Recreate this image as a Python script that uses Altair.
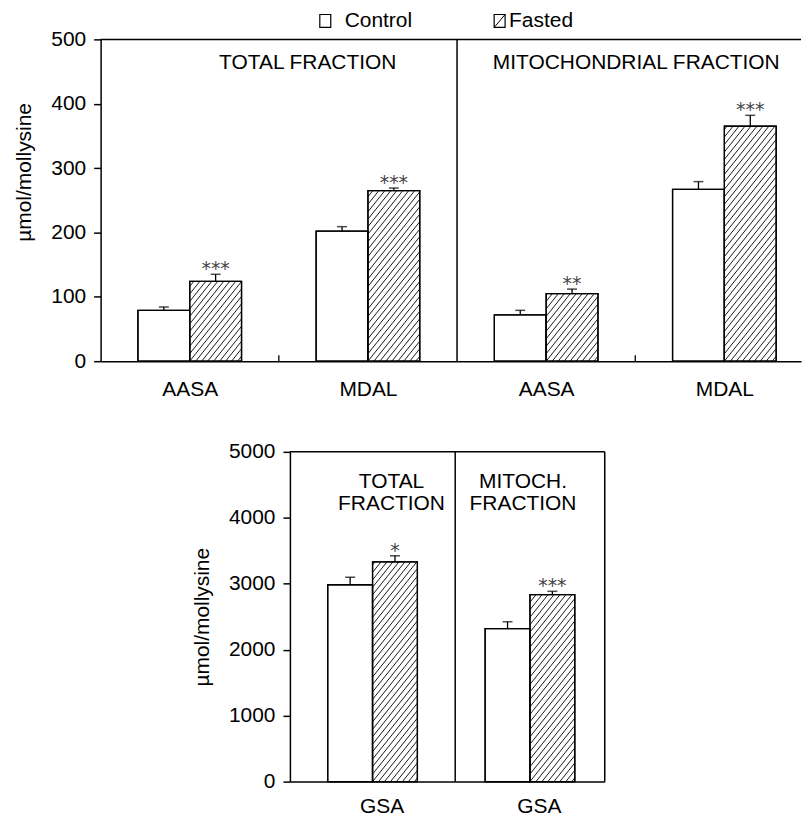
import altair as alt
import numpy as np
import pandas as pd

# ---------------- data ----------------
legend_labels = ["Control", "Fasted"]

top_sections = ["TOTAL FRACTION", "MITOCHONDRIAL FRACTION"]
top_section_of = [0, 0, 1, 1]
top_categories = ["AASA", "MDAL", "AASA", "MDAL"]
top_control = [79, 202, 72, 267]
top_control_err = [5, 7, 7, 12]
top_fasted = [124, 265, 105, 365]
top_fasted_err = [11, 4, 7, 17]
top_signif = ["***", "***", "**", "***"]
top_y_ticks = [0, 100, 200, 300, 400, 500]

bottom_sections = ["TOTAL\nFRACTION", "MITOCH.\nFRACTION"]
bottom_section_of = [0, 1]
bottom_categories = ["GSA", "GSA"]
bottom_control = [2985, 2318]
bottom_control_err = [115, 106]
bottom_fasted = [3333, 2836]
bottom_fasted_err = [91, 49]
bottom_signif = ["*", "***"]
bottom_y_ticks = [0, 1000, 2000, 3000, 4000, 5000]

Y_TITLE = "µmol/mollysine"
FONT = "Liberation Sans"
FS = 21

# ---------------- layout / style ----------------
TOP_W, TOP_H = 703, 323
TOP_EDGES = [0, 2, 4]
TOP_XMAX = 3.93
BOT_W, BOT_H = 316, 331
BOT_EDGES = [0, 1.05, 2]
BOT_XMAX = 2.0


def centers_for(section_of, edges):
    out = []
    for i, s in enumerate(section_of):
        members = [j for j, t in enumerate(section_of) if t == s]
        k, n = members.index(i), len(members)
        out.append(edges[s] + (k + 0.5) * (edges[s + 1] - edges[s]) / n)
    return out


def hatch(x0, x1, ytop, pxx, pxy, spacing=6.0, slope=1.25):
    W = (x1 - x0) * pxx
    H = ytop * pxy
    segs = []
    a = np.floor((-H / slope) / spacing) * spacing
    while a < W:
        vs = max(0.0, -slope * a)
        ve = min(H, slope * (W - a))
        if ve > vs + 0.5:
            us, ue = a + vs / slope, a + ve / slope
            segs.append(dict(hx=x0 + us / pxx, hy=vs / pxy,
                             hx2=x0 + ue / pxx, hy2=ve / pxy))
        a += spacing
    return segs


def build_panel(categories, section_of, edges, xmax, control, cerr, fasted,
                ferr, signif, sections, yticks, width, height, bar_px,
                sec_dx, sec_y, label_offset, label_pad, right_border,
                inner_ticks, extra_layers, title_y=None):
    ymax = yticks[-1]
    pxx = width / xmax
    pxy = height / ymax
    bw = bar_px / pxx
    centers = centers_for(section_of, edges)

    rows = []
    for i, c in enumerate(centers):
        rows.append(dict(group=legend_labels[0], x=c - bw, x2=c, v=control[i],
                         top=control[i] + cerr[i], mid=c - bw / 2, sig=""))
        rows.append(dict(group=legend_labels[1], x=c, x2=c + bw, v=fasted[i],
                         top=fasted[i] + ferr[i], mid=c + bw / 2, sig=signif[i]))
    bars = pd.DataFrame(rows)

    hrows = []
    for r in rows:
        if r["group"] == legend_labels[1]:
            hrows += hatch(r["x"], r["x2"], r["v"], pxx, pxy)
    hatch_df = pd.DataFrame(hrows)

    label_expr = " : ".join(
        f"abs(datum.value - {c}) < 0.01 ? '{n}'" for c, n in zip(centers, categories)
    ) + " : ''"

    xs = alt.Scale(domain=[0, xmax], nice=False, zero=False)
    ys = alt.Scale(domain=[0, ymax], nice=False)
    yaxis_kw = dict(values=yticks, format="d", title=Y_TITLE, tickSize=7,
                    labelPadding=8, titlePadding=16)
    if title_y is not None:
        yaxis_kw["titleY"] = title_y
    X = alt.X("x:Q", scale=xs,
              axis=alt.Axis(values=centers, labelExpr=label_expr, ticks=False,
                            title=None, labelPadding=label_pad, labelFlush=False,
                            labelOffset=label_offset, labelOverlap=False))
    base = alt.Chart(bars)
    rect = base.mark_rect(fill="white", stroke="black", strokeWidth=1.3).encode(
        x=X, x2="x2:Q",
        y=alt.Y("v:Q", scale=ys, axis=alt.Axis(**yaxis_kw)),
        y2=alt.datum(0),
    )
    hl = alt.Chart(hatch_df).mark_rule(color="black", strokeWidth=0.9).encode(
        x="hx:Q", x2="hx2:Q", y="hy:Q", y2="hy2:Q")
    outline = base.mark_rect(fillOpacity=0, stroke="black", strokeWidth=1.3).encode(
        x="x:Q", x2="x2:Q", y="v:Q", y2=alt.datum(0))
    err = base.mark_rule(color="black", strokeWidth=1.3).encode(
        x="mid:Q", y="v:Q", y2="top:Q")
    cap = base.mark_tick(orient="horizontal", color="black", size=10,
                         thickness=1.5).encode(x="mid:Q", y="top:Q")
    stars = base.mark_text(font="DejaVu Sans", fontSize=19, color="#444",
                           baseline="alphabetic", dy=1).encode(
        x="mid:Q", y="top:Q", text="sig:N")

    layers = [rect, hl, outline, err, cap, stars]

    # section dividers / frame
    sec_df = pd.DataFrame({"edge": edges[1:-1]})
    layers.append(alt.Chart(sec_df).mark_rule(color="black", strokeWidth=1.5)
                  .encode(x="edge:Q"))
    frame_df = pd.DataFrame({"t": [ymax]})
    layers.append(alt.Chart(frame_df).mark_rule(color="black", strokeWidth=1.5)
                  .encode(y="t:Q"))
    if right_border:
        layers.append(alt.Chart(pd.DataFrame({"r": [edges[-1]]}))
                      .mark_rule(color="black", strokeWidth=1.5).encode(x="r:Q"))
    if inner_ticks:
        mids = []
        for i in range(len(centers) - 1):
            if section_of[i] == section_of[i + 1]:
                mids.append((centers[i] + centers[i + 1]) / 2)
        tdf = pd.DataFrame({"m": mids, "z": 0.0, "h": 6 / pxy})
        layers.append(alt.Chart(tdf).mark_rule(color="black", strokeWidth=1.3)
                      .encode(x="m:Q", y="z:Q", y2="h:Q"))

    # section titles
    for s, name in enumerate(sections):
        cx = (edges[s] + edges[s + 1]) / 2
        layers.append(alt.Chart(pd.DataFrame({"c": [cx], "n": [name]}))
                      .mark_text(font=FONT, fontSize=FS, color="black",
                                 align="center", baseline="alphabetic",
                                 dx=sec_dx[s], lineBreak="\n", lineHeight=22)
                      .encode(x="c:Q", y=alt.value(sec_y), text="n:N"))

    layers += extra_layers
    return alt.layer(*layers).properties(width=width, height=height)


# legend drawn above top panel
one = pd.DataFrame({"k": [0]})
leg = [
    alt.Chart(one).mark_rect(fill="white", stroke="black", strokeWidth=1.2).encode(
        x=alt.value(220), x2=alt.value(231), y=alt.value(-25), y2=alt.value(-12)),
    alt.Chart(one).mark_text(font=FONT, fontSize=FS, align="left",
                             baseline="alphabetic", color="black").encode(
        x=alt.value(245), y=alt.value(-12), text=alt.value(legend_labels[0])),
    alt.Chart(one).mark_rect(fill="white", stroke="black", strokeWidth=1.2).encode(
        x=alt.value(395), x2=alt.value(406), y=alt.value(-25), y2=alt.value(-12)),
    alt.Chart(one).mark_rule(color="black", strokeWidth=1).encode(
        x=alt.value(395), x2=alt.value(406), y=alt.value(-12), y2=alt.value(-25)),
    alt.Chart(one).mark_text(font=FONT, fontSize=FS, align="left",
                             baseline="alphabetic", color="black").encode(
        x=alt.value(410), y=alt.value(-12), text=alt.value(legend_labels[1])),
]

top = build_panel(top_categories, top_section_of, TOP_EDGES, TOP_XMAX,
                  top_control, top_control_err, top_fasted, top_fasted_err,
                  top_signif, top_sections, top_y_ticks, TOP_W, TOP_H, 52,
                  sec_dx=[29, 1], sec_y=30, label_offset=0, label_pad=17,
                  right_border=False, inner_ticks=True, extra_layers=leg,
                  title_y=133)

bottom = build_panel(bottom_categories, bottom_section_of, BOT_EDGES, BOT_XMAX,
                     bottom_control, bottom_control_err, bottom_fasted,
                     bottom_fasted_err, bottom_signif, bottom_sections,
                     bottom_y_ticks, BOT_W, BOT_H, 45,
                     sec_dx=[19, -7], sec_y=36, label_offset=9, label_pad=14,
                     right_border=True, inner_ticks=False, extra_layers=[])

spacer = alt.Chart(one).mark_point(opacity=0).encode(
    x=alt.X("k:Q", axis=None), y=alt.Y("k:Q", axis=None)
).properties(width=91, height=BOT_H)

chart = alt.vconcat(
    top, alt.hconcat(spacer, bottom, spacing=0), spacing=42
).properties(
    padding={"left": 13, "top": 9, "right": 0, "bottom": 0}
).configure_view(stroke=None).configure_axis(
    grid=False, labelFont=FONT, titleFont=FONT, labelFontSize=FS,
    titleFontSize=FS, titleFontWeight="normal", labelColor="black",
    titleColor="black", domainColor="black", tickColor="black",
    domainWidth=1.5, tickWidth=1.5,
).configure_concat(spacing=0)

chart.save("out.html", embed_options={"renderer": "svg", "actions": False})
